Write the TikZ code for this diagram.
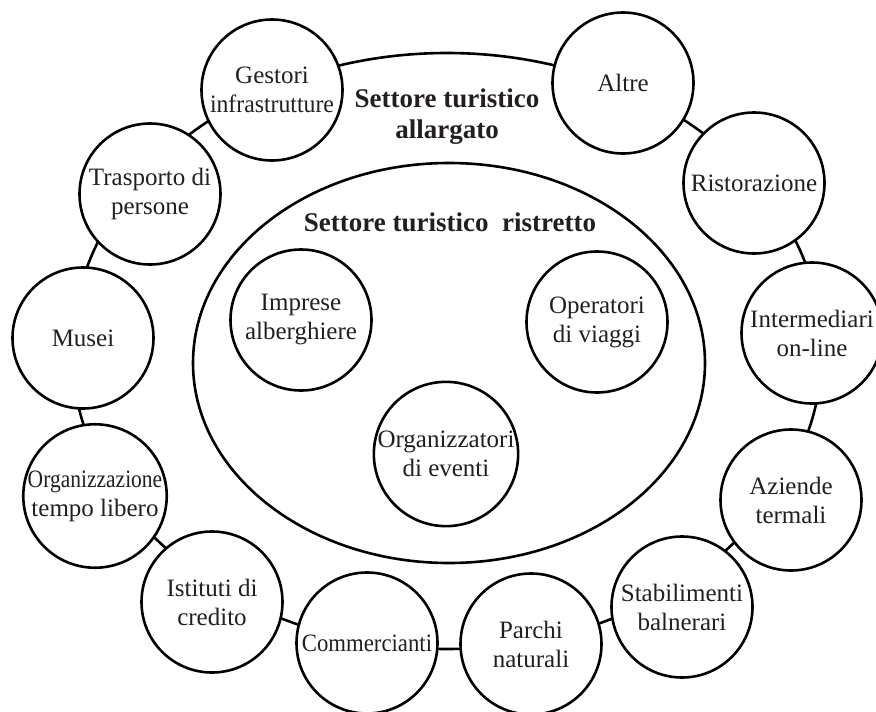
\documentclass[tikz,border=0pt]{standalone}
\usepackage{fontspec}
\setmainfont{Liberation Serif}
\definecolor{txt}{RGB}{35,31,32}
\begin{document}
\begin{tikzpicture}[x=1pt,y=-1pt,
  bub/.style={circle,draw=black,line width=2.6pt,fill=white,minimum size=141pt,inner sep=0pt,align=center,text=txt,font=\fontsize{25}{29}\selectfont},
  ttl/.style={align=center,text=txt,font=\fontsize{27}{31}\selectfont\bfseries},
  ring/.style={draw=black,line width=2.6pt}]
\useasboundingbox (0,0) rectangle (876,712);
% outer ring (settore allargato)
\draw[ring] (447,351) ellipse [x radius=375pt, y radius=298pt];
% inner ellipse (settore ristretto)
\draw[ring] (449,363) ellipse [x radius=256pt, y radius=200pt];
% titles
\node[ttl] (tall) at (447,117) {Settore turistico\\allargato};
\node[ttl] (tris) at (450,222) {Settore turistico\ \ ristretto};
% outer circles
\node[bub] (gest) at (272,90) {Gestori\\\scalebox{0.95}[1]{infrastrutture}};
\node[bub] (altre) at (623,83) {Altre};
\node[bub] (rist) at (754,183) {Ristorazione};
\node[bub] (inter) at (812,333) {Intermediari\\on-line};
\node[bub] (azi) at (791,500) {Aziende\\termali};
\node[bub] (stab) at (682,607) {Stabilimenti\\balnerari};
\node[bub] (parchi) at (531,644) {Parchi\\naturali};
\node[bub] (comm) at (367,643) {\scalebox{0.91}[1]{Commercianti}};
\node[bub] (ist) at (212,602) {Istituti di\\credito};
\node[bub] (org) at (95,496) {\scalebox{0.86}[1]{Organizzazione}\\tempo libero};
\node[bub] (musei) at (83,338) {Musei};
\node[bub] (trasp) at (150,194) {Trasporto di\\persone};
% inner circles
\node[bub] (impr) at (301,320) {Imprese\\alberghiere};
\node[bub] (oper) at (597,322) {Operatori\\di viaggi};
\node[bub] (orgev) at (446,454) {Organizzatori\\di eventi};
\end{tikzpicture}
\end{document}
